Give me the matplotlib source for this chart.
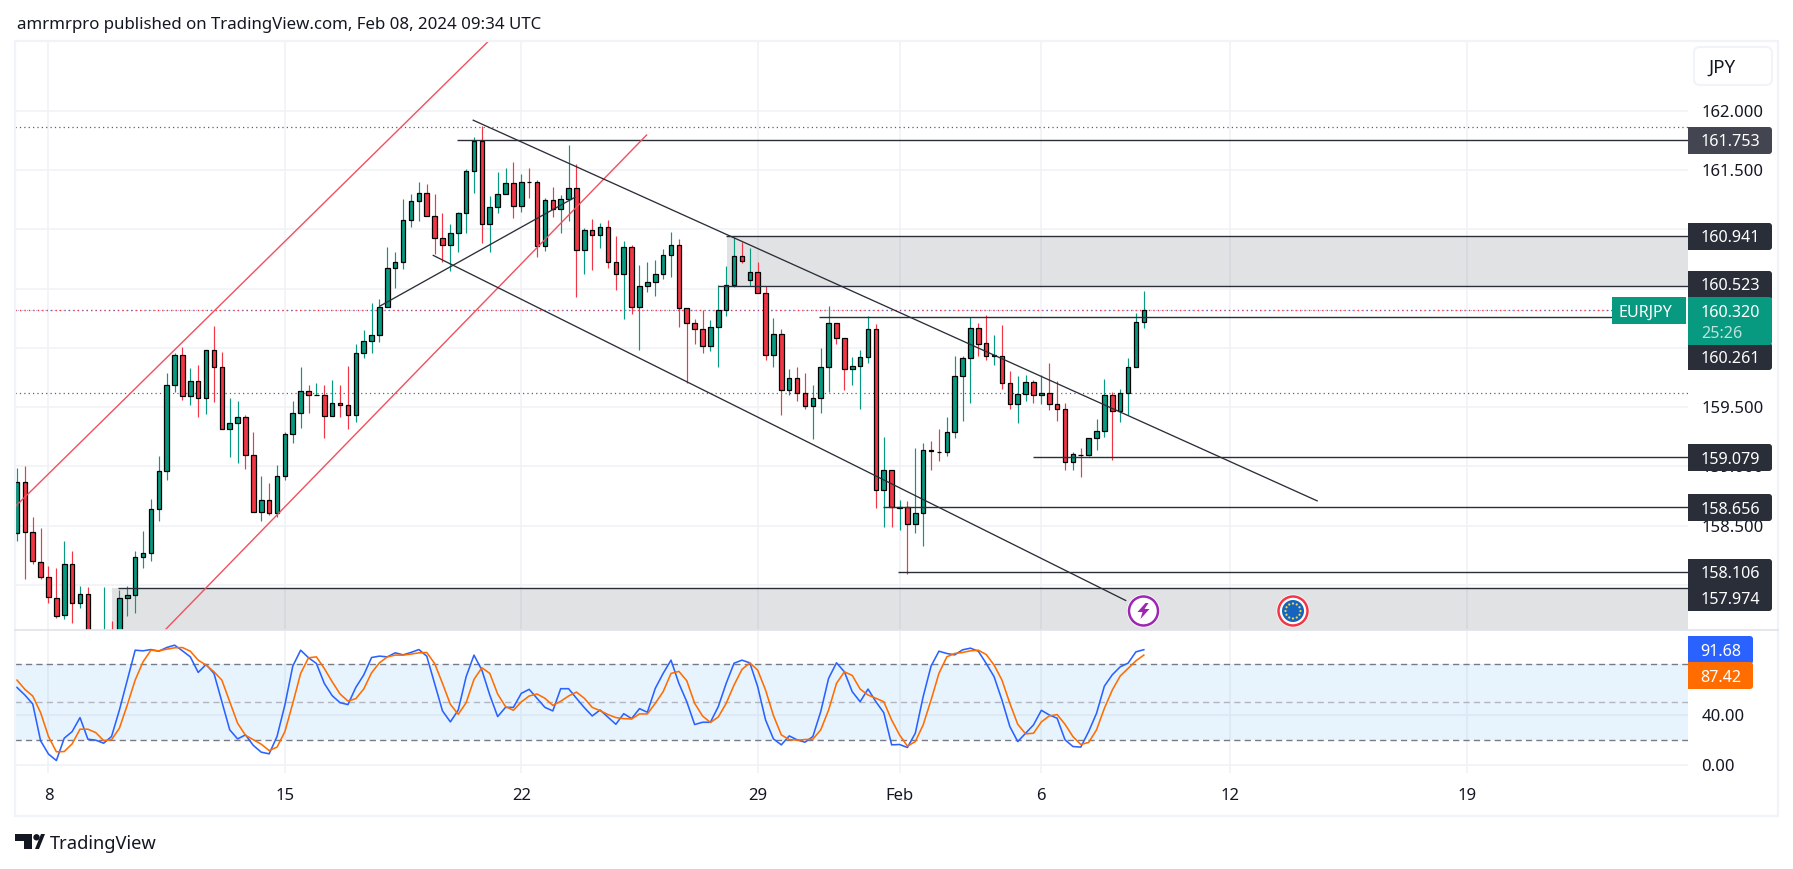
import numpy as np
import matplotlib
matplotlib.use('Agg')
import matplotlib.pyplot as plt
from matplotlib.patches import FancyBboxPatch, Rectangle, Circle, Polygon

plt.rcParams['font.family'] = ['Noto Sans', 'DejaVu Sans']

W, H = 1793, 869

# 4h candles, bar 0 is the first one of Jan 8
opens = [158.440,158.869,158.446,158.198,158.064,157.895,157.746,158.181,157.845,157.927,157.50,157.44,
    157.58,157.48,157.889,157.915,158.236,158.271,158.641,158.965,159.691,159.936,159.592,159.723,
    159.574,159.985,159.837,159.312,159.370,159.417,159.099,158.618,158.714,158.609,158.921,159.277,
    159.455,159.638,159.600,159.606,159.428,159.536,159.522,159.437,159.959,160.061,160.105,160.341,
    160.670,160.723,161.079,161.239,161.304,161.113,160.927,160.868,160.969,161.138,161.492,161.747,
    161.045,161.189,161.298,161.391,161.197,161.399,161.399,160.860,161.247,161.172,161.256,161.346,
    160.826,160.992,160.953,161.020,160.722,160.624,160.851,160.346,160.523,160.556,160.624,160.784,
    160.868,160.335,160.211,160.160,160.017,160.177,160.321,160.531,160.776,160.573,160.641,160.464,
    159.939,160.115,159.646,159.747,159.621,159.512,159.579,159.840,160.211,160.085,159.823,159.849,
    159.924,160.157,158.800,158.968,158.651,158.657,158.519,158.606,159.137,159.126,159.120,159.289,
    159.761,159.912,160.165,160.039,159.929,159.935,159.702,159.525,159.609,159.710,159.601,159.623,
    159.525,159.483,159.036,159.100,159.095,159.238,159.297,159.601,159.466,159.617,159.842,160.216]
closes = [158.869,158.449,158.201,158.067,157.898,157.743,158.181,157.845,157.927,157.50,157.56,157.58,
    157.48,157.889,157.912,158.233,158.268,158.638,158.962,159.688,159.936,159.592,159.723,159.574,
    159.985,159.837,159.312,159.367,159.417,159.099,158.618,158.714,158.609,158.918,159.277,159.452,
    159.638,159.600,159.606,159.428,159.536,159.522,159.437,159.959,160.061,160.105,160.341,160.670,
    160.723,161.079,161.239,161.309,161.113,160.927,160.868,160.967,161.135,161.492,161.747,161.045,
    161.189,161.295,161.391,161.197,161.399,161.396,160.860,161.247,161.172,161.256,161.346,160.826,
    160.992,160.953,161.020,160.725,160.624,160.851,160.346,160.520,160.556,160.624,160.784,160.868,
    160.337,160.211,160.160,160.017,160.177,160.321,160.531,160.776,160.731,160.641,160.464,159.939,
    160.118,159.646,159.747,159.621,159.512,159.579,159.840,160.211,160.085,159.823,159.849,159.924,
    160.160,158.800,158.968,158.657,158.657,158.519,158.606,159.137,159.134,159.120,159.289,159.761,
    159.912,160.165,160.030,159.929,159.938,159.702,159.525,159.609,159.710,159.601,159.623,159.525,
    159.483,159.036,159.103,159.095,159.238,159.297,159.601,159.466,159.617,159.842,160.216,160.317]
highs = [158.991,159.000,158.577,158.484,158.163,158.146,158.373,158.289,157.994,157.985,157.59,157.986,
    157.697,157.959,157.994,158.286,158.455,158.729,159.090,159.787,159.956,160.006,159.831,159.854,
    159.985,160.184,159.965,159.574,159.551,159.431,159.294,158.921,158.857,159.014,159.294,159.548,
    159.840,159.691,159.702,159.685,159.729,159.691,159.848,160.029,160.151,160.379,160.414,160.851,
    160.805,161.254,161.300,161.396,161.385,161.298,161.138,161.045,161.146,161.509,161.778,161.868,
    161.281,161.483,161.517,161.571,161.469,161.517,161.419,161.264,161.357,161.292,161.714,161.551,
    161.012,161.090,161.054,161.079,160.947,160.905,160.868,160.703,160.725,160.745,160.837,160.981,
    160.922,160.337,160.247,160.323,160.231,160.531,160.694,160.936,160.891,160.846,160.728,160.520,
    160.256,160.160,159.826,159.843,159.790,159.691,160.003,160.351,160.211,160.085,159.927,159.986,
    160.273,160.202,159.249,158.968,158.719,158.710,159.157,159.199,159.216,159.317,159.418,159.932,
    159.932,160.258,160.213,160.277,160.109,160.193,159.806,159.764,159.772,159.730,159.769,159.873,
    159.721,159.533,159.120,159.157,159.238,159.398,159.738,159.626,159.654,159.912,160.295,160.480]
lows = [158.373,158.047,158.175,158.052,157.851,157.726,157.717,157.682,157.807,157.42,157.40,157.35,
    157.40,157.42,157.735,157.764,158.146,158.207,158.536,158.883,159.627,159.560,159.516,159.417,
    159.440,159.542,159.312,159.076,159.026,158.977,158.618,158.542,158.595,158.577,158.889,159.195,
    159.323,159.449,159.600,159.239,159.423,159.417,159.315,159.373,159.918,159.956,160.049,160.341,
    160.507,160.668,161.023,161.067,161.113,160.795,160.722,160.652,160.812,160.972,161.309,160.888,
    160.812,161.141,161.295,161.099,161.149,161.267,160.764,160.821,161.107,160.972,161.073,160.433,
    160.627,160.660,160.843,160.677,160.492,160.247,160.284,159.986,160.475,160.441,160.585,160.601,
    160.180,159.705,160.037,159.953,159.978,159.835,160.273,160.514,160.714,160.526,160.464,159.902,
    159.835,159.433,159.599,159.548,159.481,159.228,159.447,159.632,160.037,159.649,159.691,159.481,
    159.874,158.651,158.491,158.491,158.466,158.095,158.440,158.331,158.971,159.047,159.092,159.241,
    159.384,159.536,159.932,159.898,159.856,159.657,159.485,159.367,159.556,159.536,159.528,159.477,
    159.384,158.971,158.971,158.912,159.092,159.140,159.249,159.056,159.376,159.438,159.842,160.168]

# stochastic %K and %D, same bars as the candles
stoch_k = [61.8,55.8,48.7,19.5,9.0,3.9,21.6,26.8,37.9,20.8,20.0,17.6,22.9,43.9,67.6,91.3,90.8,91.8,90.5,93.4,
    95.3,90.8,86.0,73.7,80.0,72.9,50.5,28.2,21.0,24.2,15.8,10.5,9.2,22.9,47.9,78.7,91.3,85.3,80.8,65.0,
    55.3,49.7,48.2,61.8,71.6,85.5,86.6,86.0,89.2,87.6,89.5,91.8,86.6,65.0,43.2,34.5,43.9,70.3,87.4,75.5,
    55.8,38.7,46.0,46.0,57.1,60.3,53.2,46.0,43.2,60.8,60.8,53.2,45.8,39.2,43.9,
    38.2,32.6,41.0,37.1,45.0,42.1,61.0,72.9,83.4,65.0,50.5,32.4,34.2,34.2,46.6,65.0,81.0,83.4,81.3,62.4,
    36.0,21.0,16.3,23.4,20.3,18.4,22.9,42.6,69.0,81.3,74.2,58.4,50.5,60.5,50.5,41.8,16.3,16.6,14.2,25.5,
    54.5,78.7,90.5,88.7,87.6,91.6,92.9,90.5,80.8,70.3,51.8,30.8,18.9,25.5,32.1,43.7,40.0,37.4,20.3,15.0,
    14.5,26.8,41.3,62.9,71.8,78.1,81.0,90.0,91.68]
stoch_d = [67.6,60.3,55.0,41.8,22.9,10.8,11.0,17.1,28.7,28.7,26.0,19.7,20.3,29.5,47.9,67.6,82.1,91.3,90.8,92.1,
    93.2,93.4,90.5,83.4,79.5,74.2,67.6,50.5,33.4,23.9,20.3,16.8,11.8,14.5,26.8,49.2,72.9,85.3,86.0,76.8,
    66.3,56.6,51.0,52.9,60.5,73.4,81.3,86.0,87.4,87.4,88.2,89.2,89.5,80.8,65.0,48.4,40.5,49.7,68.2,77.4,
    72.9,56.6,46.6,43.7,50.3,55.0,56.6,53.2,47.6,50.8,55.0,58.1,53.2,46.0,43.4,
    40.3,37.9,37.1,36.8,40.8,40.8,49.2,58.4,72.9,74.5,67.1,49.2,39.2,34.0,38.4,49.2,63.7,76.0,81.3,75.5,
    59.7,39.5,24.2,20.5,20.0,20.5,20.8,28.2,43.9,65.0,74.2,71.3,60.5,55.8,53.2,50.5,36.0,24.2,15.3,18.9,
    32.1,51.8,72.9,86.0,88.7,89.5,90.8,91.3,87.9,79.5,67.6,49.2,32.6,25.0,25.5,34.5,39.2,40.3,32.6,22.9,
    16.6,18.2,28.2,45.3,59.7,70.8,76.8,82.9,87.42]

price_ticks = [158.0, 158.5, 159.0, 159.5, 160.0, 160.5, 161.0, 161.5, 162.0]
# the ones hidden behind the price tags stay empty
price_labels = ['', '158.500', '159.000', '159.500', '', '', '', '161.500', '162.000']
stoch_ticks = [0, 40]
time_ticks = [0, 30, 60, 90, 108, 126, 150, 180]
time_labels = ['8', '15', '22', '29', 'Feb', '6', '12', '19']

# drawings: (bar, price) pairs
red_channel_upper = ([-4.25, 56.5], [158.66, 162.63])
red_channel_lower = ([14.78, 75.9], [157.62, 161.795])
fall_channel_upper = ([53.9, 161.0], [161.92, 158.71])
fall_channel_lower = ([48.83, 136.7], [160.78, 157.87])
rise_line = ([42.07, 66.8], [160.353, 161.27])
level_prices = [161.753, 160.941, 160.523, 160.261, 159.079, 158.656, 158.106, 157.974]
level_starts = [51.9, 86.0, 85.0, 97.8, 124.9, 105.9, 107.8, 8.86]
dotted_prices = [161.865, 159.617]
last_price = 160.32

GREEN = '#089981'
RED = '#f23645'
DARK = '#2a2e39'
GRID = '#f1f2f6'
FRAME = '#f0f3fa'
XMIN, XMAX = -4.25, 208.06


def rect(x0, y0, x1, y1):
    # pixel box from the top left of the figure to figure fractions
    return [x0 / W, 1 - y1 / H, (x1 - x0) / W, (y1 - y0) / H]


fig = plt.figure(figsize=(W / 100, H / 100), dpi=100, facecolor='white')
ax = fig.add_axes(rect(15, 41, 1688, 630))
ax2 = fig.add_axes(rect(15, 630, 1688, 773))
top = fig.add_axes([0, 0, 1, 1], zorder=10)
top.set_xlim(0, W)
top.set_ylim(H, 0)
top.axis('off')

# price pane
bars = np.arange(-4, -4 + len(opens))
o = np.array(opens)
c = np.array(closes)
colors = [GREEN if cc >= oo else RED for oo, cc in zip(o, c)]
ax.vlines(bars, lows, highs, colors=colors, linewidth=0.85, zorder=3)
ax.bar(bars, np.abs(c - o), bottom=np.minimum(o, c), width=0.58, color=colors, edgecolor='black', linewidth=0.9, zorder=4)

ax.axhspan(160.523, 160.941, xmin=(86.1 - XMIN) / (XMAX - XMIN), color='#787b86', alpha=0.22, lw=0, zorder=1)
ax.axhspan(157.5, 157.974, xmin=(8.06 - XMIN) / (XMAX - XMIN), color='#787b86', alpha=0.22, lw=0, zorder=1)
ax.hlines(level_prices, level_starts, XMAX, color=DARK, linewidth=1.0, zorder=5)
for p in dotted_prices:
    ax.axhline(p, color='#5d606b', linewidth=0.9, linestyle=(0, (1, 2.5)), zorder=2)
ax.axhline(last_price, color=RED, linewidth=1.0, linestyle=(0, (1, 2.2)), zorder=2)
ax.axhline(last_price, color='#2962ff', linewidth=0.7, alpha=0.55, linestyle=(2.2, (1, 3.7)), zorder=2)
for line in [red_channel_upper, red_channel_lower]:
    ax.plot(line[0], line[1], color='#f0505f', linewidth=1.0, zorder=5)
for line in [fall_channel_upper, fall_channel_lower, rise_line]:
    ax.plot(line[0], line[1], color=DARK, linewidth=0.95, zorder=5)

ax.set_xlim(XMIN, XMAX)
ax.set_ylim(157.621, 162.588)
ax.set_yticks(price_ticks)
ax.set_yticklabels(price_labels)
ax.set_xticks(time_ticks)
ax.grid(True, color=GRID, linewidth=1.2, zorder=0)
ax.set_axisbelow(True)
ax.yaxis.tick_right()
ax.tick_params(axis='y', length=0, pad=9.5, labelsize=12, labelcolor='#131722')
ax.tick_params(axis='x', length=0, labelbottom=False)

# stochastic pane
ax2.axhspan(20, 80, color='#2196f3', alpha=0.1, lw=0, zorder=1)
for level, col in [(80, '#787b86'), (50, '#b2b5be'), (20, '#787b86')]:
    ax2.axhline(level, color=col, linewidth=1.0, linestyle=(0, (4.5, 3)), zorder=2)
stoch_x = np.arange(-4, -4 + len(stoch_k))
ax2.plot(stoch_x, stoch_k, color='#2962ff', linewidth=1.15, zorder=3)
ax2.plot(stoch_x, stoch_d, color='#ff6d00', linewidth=1.15, zorder=4)
ax2.set_xlim(XMIN, XMAX)
ax2.set_ylim(-6.0, 107.3)
ax2.set_yticks(stoch_ticks)
ax2.set_yticklabels(['%.2f' % v for v in stoch_ticks])
ax2.set_xticks(time_ticks)
ax2.set_xticklabels(time_labels)
ax2.get_xticklabels()[time_labels.index('Feb')].set_fontweight('bold')
ax2.grid(True, color=GRID, linewidth=1.2, zorder=0)
ax2.set_axisbelow(True)
ax2.yaxis.tick_right()
ax2.tick_params(axis='y', length=0, pad=9.5, labelsize=12, labelcolor='#131722')
ax2.tick_params(axis='x', length=0, pad=10.5, labelsize=12, labelcolor='#131722')

for a in [ax, ax2]:
    for s in a.spines.values():
        s.set_visible(False)
    a.patch.set_alpha(0)


def tag(x0, y0, x1, y1, color):
    top.add_patch(FancyBboxPatch((x0, y0), x1 - x0, y1 - y0, boxstyle='round,pad=0,rounding_size=3', fc=color, ec='none', zorder=3))
    top.add_patch(Rectangle((x0, y0), 8, y1 - y0, fc=color, ec='none', zorder=3))


def tag_text(x, y, s, color='white', size=11.6, weight='bold'):
    top.text(x, y, s, color=color, fontsize=size, fontweight=weight, va='center_baseline', ha='left', zorder=4)


# frame
top.add_patch(Rectangle((15, 41), 1763, 775, fc='none', ec=FRAME, lw=1.6, zorder=1))
top.plot([15, 1778], [630, 630], color='#e0e3eb', lw=1.2, zorder=1)

# price tags
tag(1688, 127, 1772, 154, '#434651')
tag_text(1701, 140.5, '161.753')
tag(1688, 223, 1772, 250, DARK)
tag_text(1701, 236.5, '160.941')
tag(1688, 271, 1772, 300, DARK)
tag_text(1701, 284.5, '160.523')
tag(1688, 343, 1772, 370, DARK)
tag_text(1701, 357, '160.261')
tag(1688, 297, 1772, 345, GREEN)
tag_text(1701, 311, '160.320')
tag_text(1701, 332, '25:26', color='#bde3dc')
tag(1612, 297, 1690, 324, GREEN)
top.add_patch(Rectangle((1686, 297), 2, 27, fc='white', ec='none', zorder=3.5))
tag_text(1619, 310.5, 'EURJPY')
tag(1688, 444, 1772, 471, DARK)
tag_text(1701, 457.5, '159.079')
tag(1688, 494, 1772, 521, DARK)
tag_text(1701, 507.5, '158.656')
tag(1688, 559, 1772, 611, DARK)
tag_text(1701, 572.5, '158.106')
tag_text(1701, 597.5, '157.974')
tag(1688, 636, 1753, 664, '#2962ff')
tag_text(1700, 650, '91.68')
tag(1688, 662, 1753, 689, '#ff6d00')
tag_text(1700, 675.5, '87.42')

# currency button
top.add_patch(FancyBboxPatch((1694, 47), 78, 38, boxstyle='round,pad=0,rounding_size=6', fc='white', ec=FRAME, lw=1.5, zorder=3))
top.text(1708, 65.5, 'JPY', color='#131722', fontsize=13.5, va='center_baseline', zorder=4)

# event icons
ix, iy = 1143.5, 611
top.add_patch(Circle((ix, iy), 16.5, fc='white', ec='none', zorder=6))
top.add_patch(Circle((ix, iy), 14.5, fc='white', ec='#9c27b0', lw=1.8, zorder=6))
bolt = [(2, -8), (-6, 1), (-1, 1), (-3, 8), (6, -2), (1, -2), (5, -8)]
top.add_patch(Polygon([(ix + a, iy + b) for a, b in bolt], fc='#9c27b0', ec='none', zorder=7))
ex, ey = 1293, 611
top.add_patch(Circle((ex, ey), 16.5, fc='white', ec='none', zorder=6))
top.add_patch(Circle((ex, ey), 14.5, fc='white', ec=RED, lw=1.8, zorder=6))
top.add_patch(Circle((ex, ey), 11, fc='#1565c0', ec='none', zorder=7))
for ang in np.arange(12) * np.pi / 6:
    top.add_patch(Circle((ex + 7.5 * np.cos(ang), ey + 7.5 * np.sin(ang)), 1.1, fc='#f5d742', ec='none', zorder=8))

# header and footer
top.text(17, 23, 'amrmrpro published on TradingView.com, Feb 08, 2024 09:34 UTC', color='#131722', fontsize=12.15, va='center_baseline')
top.add_patch(Polygon([(15, 834), (32, 834), (32, 849), (24, 849), (24, 841), (15, 841)], fc='#131722', ec='none'))
top.add_patch(Circle((36.5, 837.3), 3.2, fc='#131722', ec='none'))
top.add_patch(Polygon([(35, 849), (41, 834), (45, 834), (39, 849)], fc='#131722', ec='none'))
top.text(50, 842, 'TradingView', color='#131722', fontsize=13.2, va='center_baseline')

fig.savefig('out.png', dpi=100)
